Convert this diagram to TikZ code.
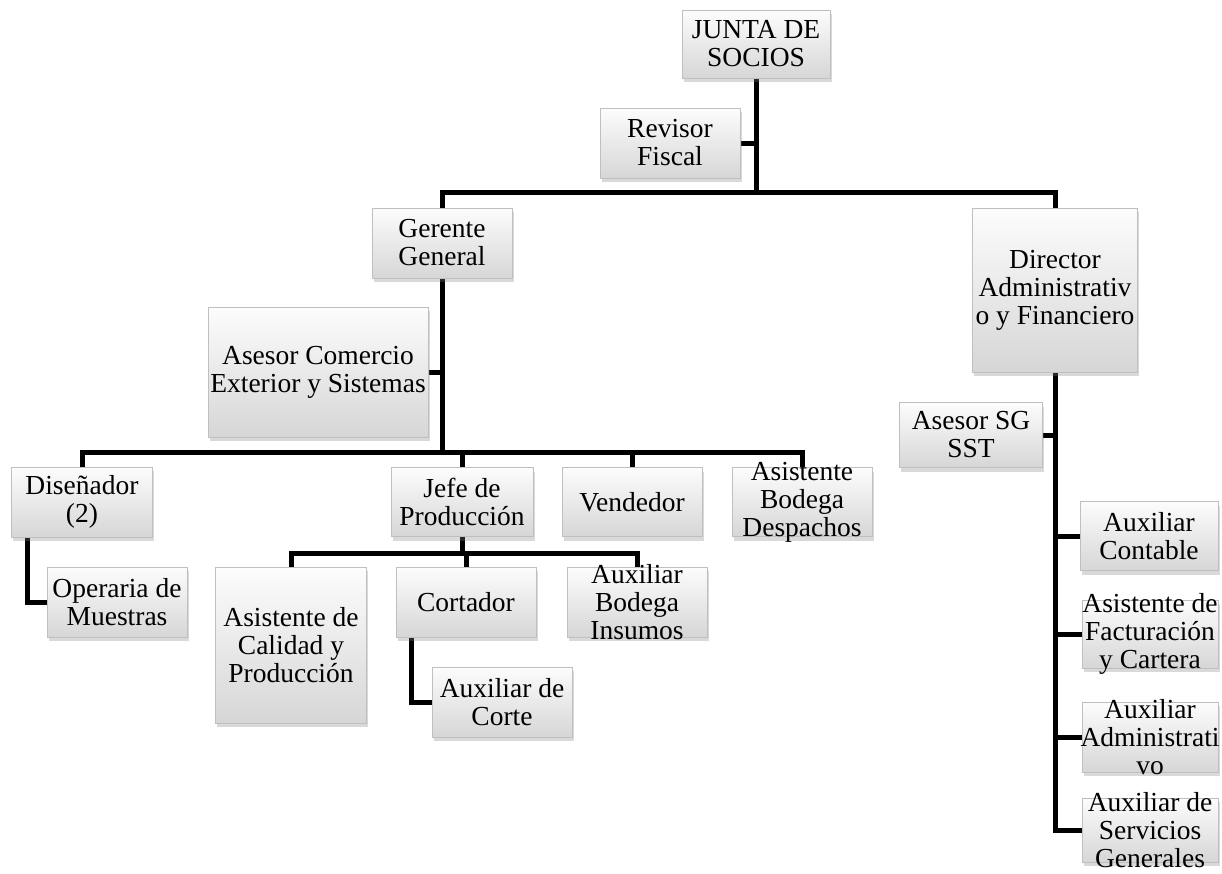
\documentclass[tikz,border=0pt]{standalone}
\usepackage{fontspec}
\setmainfont{Liberation Serif}
\usetikzlibrary{shadows,backgrounds}
\tikzset{
  box/.style={rectangle, draw=gray!50, line width=0.8pt, top color=gray!2, bottom color=gray!32, inner sep=0pt,
    drop shadow={opacity=0.3, shadow xshift=1.5pt, shadow yshift=-4pt}},
  txt/.style={align=center, inner sep=0pt, font=\fontsize{27.5}{28}\selectfont},
  conn/.style={line width=5pt, line join=miter, draw=black},
}
\newcommand\orgbox[6]{%
  \node[box, minimum width=#4pt, minimum height=#5pt] (#1) at (#2,#3) {};
  \node[txt] (#1-t) at (#1.center) {#6};}
\begin{document}
\begin{tikzpicture}[x=1pt,y=-1pt]
\useasboundingbox (0,0) rectangle (1222,873);
\orgbox{js}{756}{44}{148}{68}{JUNTA DE\\SOCIOS}
\orgbox{rf}{670}{143}{140}{70}{Revisor\\Fiscal}
\orgbox{gg}{442}{243}{140}{70}{Gerente\\General}
\orgbox{da}{1055}{290}{165}{164}{Director\\Administrativ\\o y Financiero}
\orgbox{acs}{318}{372}{220}{130}{Asesor Comercio\\Exterior y Sistemas}
\orgbox{dis}{82}{502}{141}{70}{Diseñador\\(2)}
\orgbox{jp}{462}{502}{142}{69}{Jefe de\\Producción}
\orgbox{ven}{632}{502}{140}{69}{Vendedor}
\orgbox{abd}{802}{502}{140}{69}{Asistente\\Bodega\\Despachos}
\orgbox{op}{117}{602}{140}{70}{Operaria de\\Muestras}
\orgbox{acp}{291}{645}{151}{156}{Asistente de\\Calidad y\\Producción}
\orgbox{cor}{466}{602}{140}{70}{Cortador}
\orgbox{abi}{637}{602}{140}{70}{Auxiliar\\Bodega\\Insumos}
\orgbox{ac}{502}{702}{140}{70}{Auxiliar de\\Corte}
\orgbox{sst}{971}{435}{143}{65}{Asesor SG\\SST}
\orgbox{acont}{1149}{536}{138}{69}{Auxiliar\\Contable}
\orgbox{afc}{1150}{634}{136}{68}{Asistente de\\Facturación\\y Cartera}
\orgbox{aadm}{1150}{737}{136}{70}{Auxiliar\\Administrati\\vo}
\orgbox{asg}{1150}{830}{136}{64}{Auxiliar de\\Servicios\\Generales}
\coordinate (b1) at (756,192);
\coordinate (b2) at (442,452);
\coordinate (b3) at (462,553);
\begin{pgfonlayer}{background}
\draw[conn] (js.south) -- (b1);
\draw[conn] (rf.east) -- (rf.east -| b1);
\draw[conn] (gg.north) |- (b1) -| (da.north);
\draw[conn] (gg.south) -- (b2);
\draw[conn] (acs.east) -- (acs.east -| b2);
\draw[conn] (dis.north) |- (b2) -| (abd.north);
\draw[conn] (jp.north) -- (jp.north |- b2);
\draw[conn] (ven.north) -- (ven.north |- b2);
\draw[conn] (jp.south) -- (b3);
\draw[conn] (acp.north) |- (b3) -| (abi.north);
\draw[conn] (cor.north) -- (cor.north |- b3);
\draw[conn] ([xshift=-55pt]dis.south) |- (op.west);
\draw[conn] ([xshift=-55pt]cor.south) |- (ac.west);
\draw[conn] (da.south) |- (asg.west);
\draw[conn] (sst.east) -- (sst.east -| da.south);
\draw[conn] (acont.west) -- (acont.west -| da.south);
\draw[conn] (afc.west) -- (afc.west -| da.south);
\draw[conn] (aadm.west) -- (aadm.west -| da.south);
\end{pgfonlayer}
\end{tikzpicture}
\end{document}
